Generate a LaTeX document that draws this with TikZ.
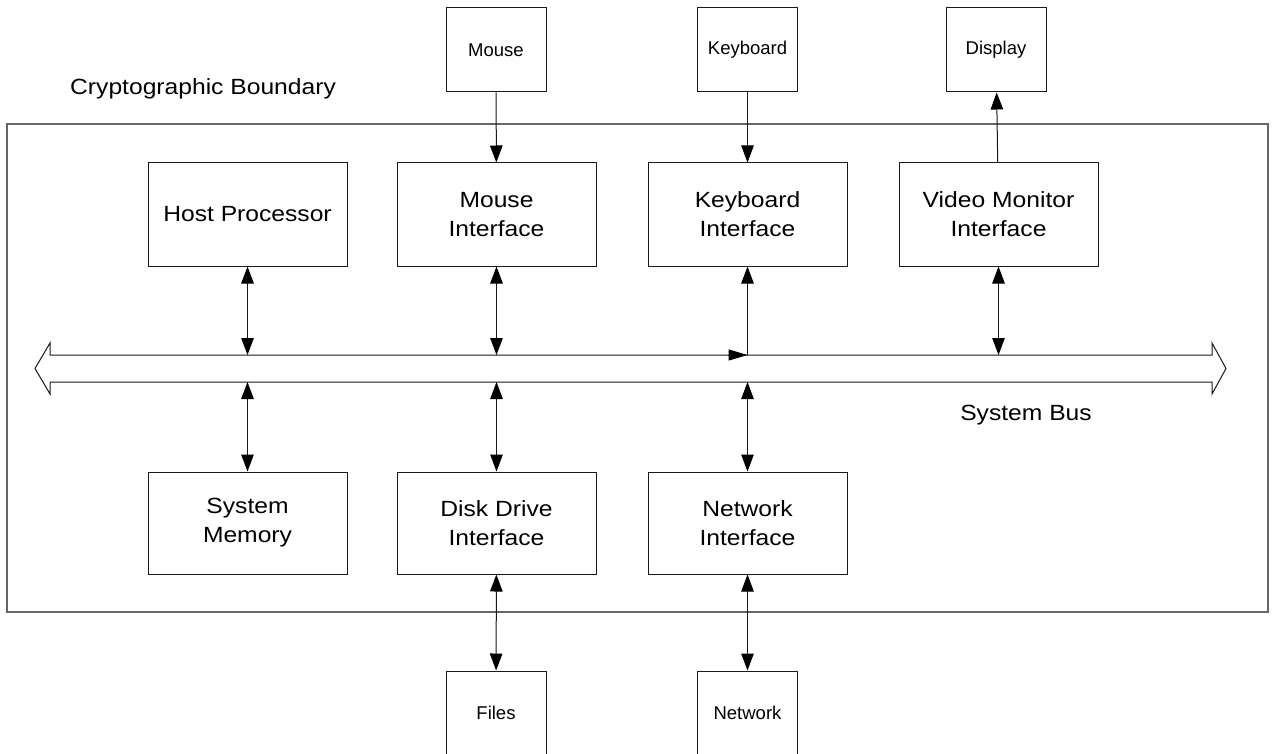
\documentclass[tikz,border=0pt]{standalone}
\usepackage{fontspec}
\setmainfont{Liberation Sans}
\newfontfamily\widefont[FakeStretch=1.12]{Liberation Sans}
\usetikzlibrary{arrows.meta}
\tikzset{
  unit/.style={draw=black!90, line width=1pt, inner sep=0pt, align=center,
    minimum width=199pt, minimum height=103pt,
    font=\widefont\fontsize{22}{29}\selectfont},
  device/.style={draw=black!90, line width=1pt, inner sep=0pt, align=center,
    minimum width=100pt, minimum height=84pt,
    font=\fontsize{18.5}{22}\selectfont},
  caption/.style={inner sep=0pt, font=\widefont\fontsize{22}{26}\selectfont},
  link/.style={line width=1pt, draw=black!90,
    >={Triangle[length=17pt,width=12.5pt,color=black]}},
  both/.style={link, <->},
  one/.style={link, ->},
}
\begin{document}
\begin{tikzpicture}[x=1pt,y=-1pt]
\useasboundingbox (0,0) rectangle (1273,754);
\clip (0,0) rectangle (1273,754);

% cryptographic boundary
\draw[draw=black!60, line width=1.3pt] (7,124) rectangle (1268,612);
\node[caption, anchor=west] (cbl) at (70,89) {Cryptographic Boundary};

% system bus (hollow double-headed arrow)
\draw[line width=1pt, draw=black!90]
  (50,355) -- (1212,355) -- (1212,343) -- (1226,368.5) -- (1212,394)
  -- (1212,382) -- (50,382) -- (50,394) -- (35,368.5) -- (50,343) -- cycle;
\coordinate (bustop) at (0,355);
\coordinate (busbot) at (0,382);
\node[caption] (sbl) at (1026,415) {System Bus};

% units inside the boundary
\node[unit] (host)  at (247.5,214.5) {Host Processor};
\node[unit] (mif)   at (496.5,214.5) {Mouse\\Interface};
\node[unit] (kif)   at (747.5,214.5) {Keyboard\\Interface};
\node[unit] (vif)   at (998.5,214.5) {Video Monitor\\Interface};
\node[unit, minimum height=102pt] (mem)  at (247.5,523) {System\\Memory};
\node[unit, minimum height=102pt] (disk) at (496.5,523) {Disk Drive\\Interface};
\node[unit, minimum height=102pt] (nif)  at (747.5,523) {Network\\Interface};

% external devices
\node[device] (mouse)   at (496,50)  {Mouse};
\node[device] (kbd)     at (747.5,50)  {Keyboard};
\node[device] (display) at (996,50)  {Display};
\node[device] (files)   at (496,713) {Files};
\node[device] (net)     at (747.5,713) {Network};

% device links
\draw[one] (mouse) -- (mif);
\draw[one] (kbd) -- (kif);
\draw[one] (vif) -- (display);
\draw[both] (disk) -- (files);
\draw[both] (nif) -- (net);

% bus links
\draw[both] (host.south) -- (host.south |- bustop);
\draw[both] (mif.south) -- (mif.south |- bustop);
\draw[both] (vif.south) -- (vif.south |- bustop);
\coordinate (kbus) at (kif.south |- bustop);
\draw[one] (kbus) -- (kif.south);
\draw[link, -{Triangle[length=19pt,width=11pt,color=black]}] ([xshift=-20pt]kbus) -- (kbus);
\draw[both] (mem.north) -- (mem.north |- busbot);
\draw[both] (disk.north) -- (disk.north |- busbot);
\draw[both] (nif.north) -- (nif.north |- busbot);
\end{tikzpicture}
\end{document}
